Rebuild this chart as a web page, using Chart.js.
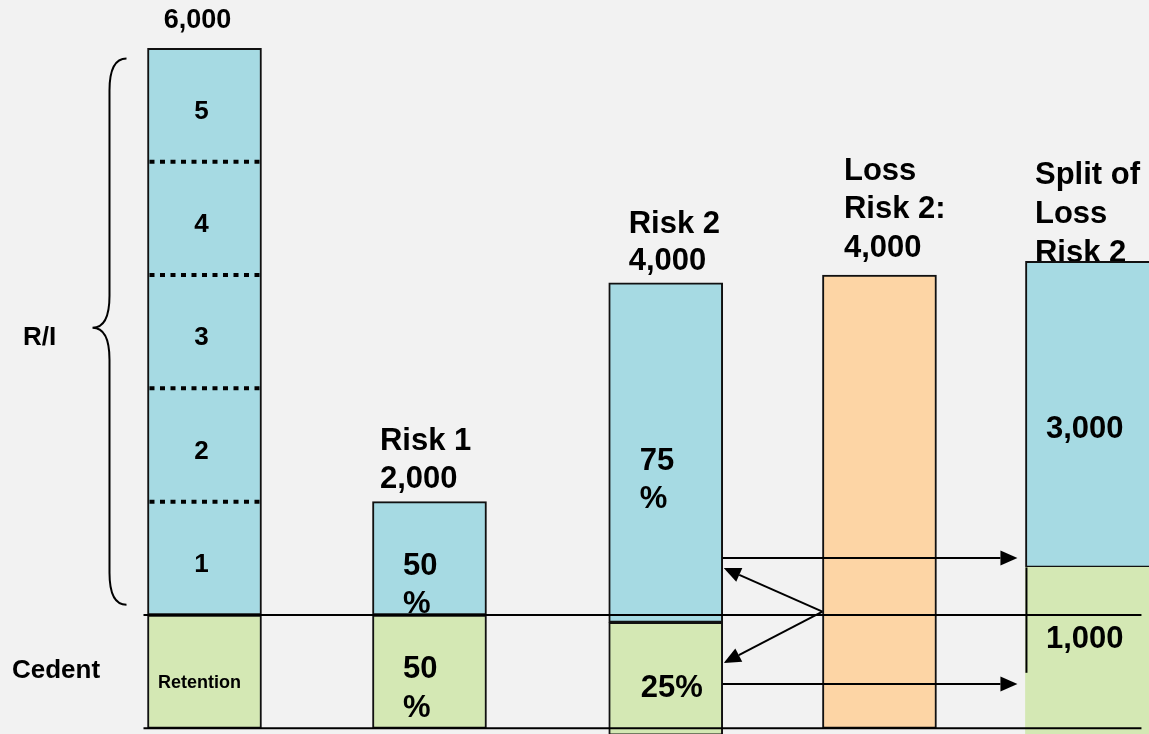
<!DOCTYPE html>
<html>
<head>
<meta charset="utf-8">
<script src="https://cdn.jsdelivr.net/npm/chart.js@4"></script>
<style>
  body { margin: 0; background: #f2f2f2; }
  #wrap { width: 1149px; height: 734px; }
</style>
</head>
<body>
<div id="wrap"><canvas id="chart"></canvas></div>
<script>
// where each column sits on the x axis (spacing is a bit uneven in the original)
var positions = [1, 2, 3.05, 4, 5];

// [from, to] for each column, null where the column has no such part
var cedent = [[0, 1000], [0, 1000], [-60, 935], null, [-60, 1420]];
var reinsurer = [[1000, 6000], [1000, 2000], [935, 3930], null, [1420, 4120]];
var loss = [null, null, null, [0, 4000], null];

var layerBreaks = [2000, 3000, 4000, 5000];
var layerNames = ['1', '2', '3', '4', '5'];

const BAR = 114;
const SPLIT_BAR = 158; // last column runs off the right edge
const FONT = '"Liberation Sans", Arial, sans-serif';

function toPoints(arr, from, to) {
  var out = [];
  arr.forEach(function (r, i) {
    if (r && i >= from && i <= to) out.push({ x: positions[i], y: r });
  });
  return out;
}

// text labels: column index, offset from column centre, baseline value
var labels = [
  { bar: 0, dx: -7, v: 6180, lines: ['6,000'], size: 27, align: 'center' },
  { bar: 0, dx: -5, v: 355, lines: ['Retention'], size: 18, align: 'center' },
  { bar: 0, dx: -181.5, v: 3382, lines: ['R/I'], size: 26 },
  { bar: 0, dx: -192.5, v: 444, lines: ['Cedent'], size: 26 },
  { bar: 1, dx: -49.5, v: 2457, lines: ['Risk 1', '2,000'], lh: 38 },
  { bar: 1, dx: -26.5, v: 1354, lines: ['50', '%'], lh: 38, clipAbove: 1000 },
  { bar: 1, dx: -26.5, v: 444, lines: ['50', '%'], lh: 39 },
  { bar: 2, dx: -37, v: 4372, lines: ['Risk 2', '4,000'], lh: 37 },
  { bar: 2, dx: -26, v: 2279, lines: ['75', '%'], lh: 38 },
  { bar: 2, dx: -25, v: 276, lines: ['25%'] },
  { bar: 3, dx: -35.5, v: 4838, lines: ['Loss', 'Risk 2:', '4,000'], lh: 38.5 },
  { bar: 4, dx: -69.5, v: 4800, lines: ['Split of', 'Loss', 'Risk 2'], lh: 39, under: true },
  { bar: 4, dx: -58.5, v: 2562, lines: ['3,000'] },
  { bar: 4, dx: -58.5, v: 708, lines: ['1,000'] }
];
layerNames.forEach(function (n, k) {
  labels.push({ bar: 0, dx: -3, v: 1000 + k * 1000 + 380, lines: [n], size: 26, align: 'center' });
});

function drawLabels(chart, under) {
  var ctx = chart.ctx, xs = chart.scales.x, ys = chart.scales.y;
  labels.forEach(function (l) {
    if (!!l.under !== under) return;
    var x = xs.getPixelForValue(positions[l.bar]) + l.dx;
    var y = ys.getPixelForValue(l.v);
    ctx.save();
    if (l.clipAbove !== undefined) {
      ctx.beginPath();
      ctx.rect(0, 0, chart.width, ys.getPixelForValue(l.clipAbove));
      ctx.clip();
    }
    ctx.fillStyle = '#000';
    ctx.font = 'bold ' + (l.size || 31) + 'px ' + FONT;
    ctx.textAlign = l.align || 'left';
    ctx.textBaseline = 'alphabetic';
    l.lines.forEach(function (s, j) {
      ctx.fillText(s, x, y + j * (l.lh || 38));
    });
    ctx.restore();
  });
}

function arrow(ctx, x1, y1, x2, y2) {
  var a = Math.atan2(y2 - y1, x2 - x1), len = 17, w = 7.5;
  var bx = x2 - Math.cos(a) * len, by = y2 - Math.sin(a) * len;
  ctx.beginPath();
  ctx.moveTo(x1, y1);
  ctx.lineTo(bx, by);
  ctx.stroke();
  ctx.beginPath();
  ctx.moveTo(x2, y2);
  ctx.lineTo(bx - Math.sin(a) * w, by + Math.cos(a) * w);
  ctx.lineTo(bx + Math.sin(a) * w, by - Math.cos(a) * w);
  ctx.closePath();
  ctx.fill();
}

const diagram = {
  id: 'diagram',
  beforeDatasetsDraw(chart) {
    drawLabels(chart, true);
  },
  afterDatasetsDraw(chart) {
    var ctx = chart.ctx, xs = chart.scales.x, ys = chart.scales.y;
    var c = positions.map(function (p) { return xs.getPixelForValue(p); });
    var left0 = c[0] - BAR / 2;
    var l5 = c[4] - SPLIT_BAR / 2;

    ctx.save();
    ctx.strokeStyle = '#000';
    ctx.fillStyle = '#000';

    // dotted layer breaks in the first column
    ctx.lineWidth = 4;
    ctx.setLineDash([5, 5.5]);
    layerBreaks.forEach(function (v) {
      var y = ys.getPixelForValue(v);
      ctx.beginPath();
      ctx.moveTo(left0 + 2, y);
      ctx.lineTo(c[0] + BAR / 2 - 2, y);
      ctx.stroke();
    });
    ctx.setLineDash([]);

    // full width lines: retention limit and base
    ctx.lineWidth = 2;
    [1000, 0].forEach(function (v) {
      var y = ys.getPixelForValue(v);
      ctx.beginPath();
      ctx.moveTo(left0 - 4, y);
      ctx.lineTo(l5 + 116, y);
      ctx.stroke();
    });

    // left edge of last column's green part
    ctx.beginPath();
    ctx.moveTo(l5 + 1, ys.getPixelForValue(1420));
    ctx.lineTo(l5 + 1, ys.getPixelForValue(490));
    ctx.stroke();

    // curly brace for R/I
    var top = ys.getPixelForValue(5910), bot = ys.getPixelForValue(1090), tip = ys.getPixelForValue(3535);
    var xe = left0 - 21, xv = left0 - 38, xt = left0 - 55;
    ctx.beginPath();
    ctx.moveTo(xe, top);
    ctx.quadraticCurveTo(xv, top, xv, top + 32);
    ctx.lineTo(xv, tip - 32);
    ctx.quadraticCurveTo(xv, tip, xt, tip);
    ctx.quadraticCurveTo(xv, tip, xv, tip + 32);
    ctx.lineTo(xv, bot - 32);
    ctx.quadraticCurveTo(xv, bot, xe, bot);
    ctx.stroke();

    // arrows from the loss column
    var r3 = c[2] + BAR / 2, l4 = c[3] - BAR / 2;
    var ys0 = ys.getPixelForValue(1030);
    arrow(ctx, l4, ys0, r3 + 1, ys.getPixelForValue(1414));
    arrow(ctx, l4, ys0, r3 + 1, ys.getPixelForValue(576));
    arrow(ctx, r3, ys.getPixelForValue(1503), l5 - 8, ys.getPixelForValue(1503));
    arrow(ctx, r3, ys.getPixelForValue(391), l5 - 8, ys.getPixelForValue(391));
    ctx.restore();

    drawLabels(chart, false);
  }
};

const data = {
  datasets: [
    {
      label: 'Cedent',
      data: toPoints(cedent, 0, 3),
      backgroundColor: '#d4e8b4',
      borderColor: '#111',
      borderWidth: 2,
    },
    {
      label: 'R/I',
      data: toPoints(reinsurer, 0, 3),
      backgroundColor: '#a6dae3',
      borderColor: '#111',
      borderWidth: 2,
    },
    {
      label: 'Loss',
      data: toPoints(loss, 0, 4),
      backgroundColor: '#fdd5a5',
      borderColor: '#111',
      borderWidth: 2,
    },
    {
      label: 'Split cedent',
      data: toPoints(cedent, 4, 4),
      backgroundColor: '#d4e8b4',
      borderWidth: 0,
      barThickness: SPLIT_BAR,
    },
    {
      label: 'Split R/I',
      data: toPoints(reinsurer, 4, 4),
      backgroundColor: '#a6dae3',
      borderColor: '#111',
      borderWidth: 2,
      barThickness: SPLIT_BAR,
    },
  ],
};

const config = {
  type: 'bar',
  data: data,
  plugins: [diagram],
  options: {
    responsive: true,
    maintainAspectRatio: false,
    animation: false,
    grouped: false,
    barThickness: BAR,
    borderSkipped: false,
    layout: { padding: 0 },
    plugins: {
      legend: { display: false },
      tooltip: { enabled: false },
    },
    scales: {
      x: { type: 'linear', min: 0.0911, max: 5.198, offset: false, display: false },
      y: { min: -50, max: 6426, display: false },
    },
  },
};

var myChart = new Chart(document.getElementById('chart'), config);
</script>
</body>
</html>
